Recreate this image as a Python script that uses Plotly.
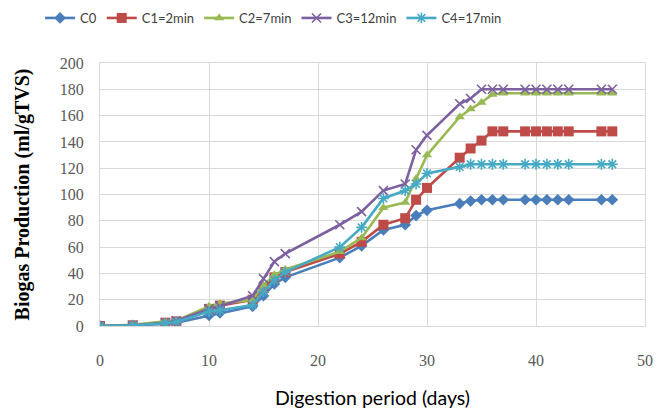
import plotly.graph_objects as go

days = [0, 3, 6, 7, 10, 11, 14, 15, 16, 17, 22, 24, 26, 28, 29, 30, 33, 34, 35, 36, 37, 39, 40, 41, 42, 43, 46, 47]

c0 = [0, 0.5, 1.5, 2.5, 8, 10, 15, 23, 32, 37, 52, 61, 73, 77, 84, 88, 93, 95, 96, 96, 96, 96, 96, 96, 96, 96, 96, 96]
c1 = [0, 0.5, 2.5, 3.5, 13, 15.5, 20, 29, 37, 41, 55, 64, 77, 82, 96, 105, 128, 135, 141, 148, 148, 148, 148, 148, 148, 148, 148, 148]
c2 = [0, 1, 3.5, 4, 15, 17, 20, 31, 39, 43, 56.5, 67, 90, 94, 112, 130, 159, 165, 170, 176, 177, 177, 177, 177, 177, 177, 177, 177]
c3 = [0, 0.5, 2.5, 4, 13, 15, 23, 36, 49, 55, 77, 87, 103, 108, 134, 145, 169, 173, 180, 180, 180, 180, 180, 180, 180, 180, 180, 180]
c4 = [0, 0.5, 2, 3, 11, 12, 16, 26, 35, 41, 60, 75, 97, 103, 108, 116, 121, 123, 123, 123, 123, 123, 123, 123, 123, 123, 123, 123]

names = ["C0", "C1=2min", "C2=7min", "C3=12min", "C4=17min"]
series = [c0, c1, c2, c3, c4]
colors = ["#4A7EBB", "#BE4B48", "#98B954", "#7D60A0", "#46AAC5"]
symbols = ["diamond", "square", "triangle-up", "x-thin-open", "asterisk-open"]
sizes = [9, 10, 9, 9, 9]

fig = go.Figure()
for name, ys, col, sym, sz in zip(names, series, colors, symbols, sizes):
    open_sym = sym.endswith("open")
    fig.add_trace(go.Scatter(
        x=days, y=ys, name=name, mode="lines+markers",
        line=dict(color=col, width=2.6),
        marker=dict(symbol=sym, size=sz, color=col,
                    line=dict(color=col, width=1.6 if open_sym else 0)),
    ))

fig.update_layout(
    width=659, height=406,
    margin=dict(l=92, r=22, t=55, b=88, autoexpand=False),
    paper_bgcolor="white", plot_bgcolor="white",
    showlegend=True,
    legend=dict(orientation="h", xref="paper", x=-0.11, xanchor="left",
                yref="paper", y=1 + 60 / 263, yanchor="top",
                font=dict(family="Liberation Sans Narrow, Lato, sans-serif", size=13, color="#404040"),
                itemwidth=30, tracegroupgap=0),
    font=dict(family="Liberation Serif, serif", color="#595959"),
)

fig.update_xaxes(
    range=[0, 50], dtick=10, tick0=0,
    showgrid=True, gridcolor="#D9D9D9", gridwidth=1,
    showline=True, linecolor="#D9D9D9", linewidth=1, mirror=True,
    zeroline=False,
    tickfont=dict(family="Liberation Serif, serif", size=16, color="#595959"),
    ticklabelstandoff=20,
    title=dict(text="Digestion period (days)", font=dict(family="Lato, sans-serif", size=19.5, color="#000000"), standoff=23),
)
fig.update_yaxes(
    range=[0, 200], dtick=20, tick0=0,
    showgrid=True, gridcolor="#D9D9D9", gridwidth=1,
    showline=True, linecolor="#D9D9D9", linewidth=1, mirror=True,
    zeroline=False,
    tickfont=dict(family="Liberation Serif, serif", size=16, color="#595959"),
    ticklabelstandoff=12,
    title=dict(text="Biogas Production (ml/gTVS)", font=dict(family="Liberation Serif, serif", size=20, color="#000000", weight="bold"), standoff=24),
)

fig.write_html("out.html")
